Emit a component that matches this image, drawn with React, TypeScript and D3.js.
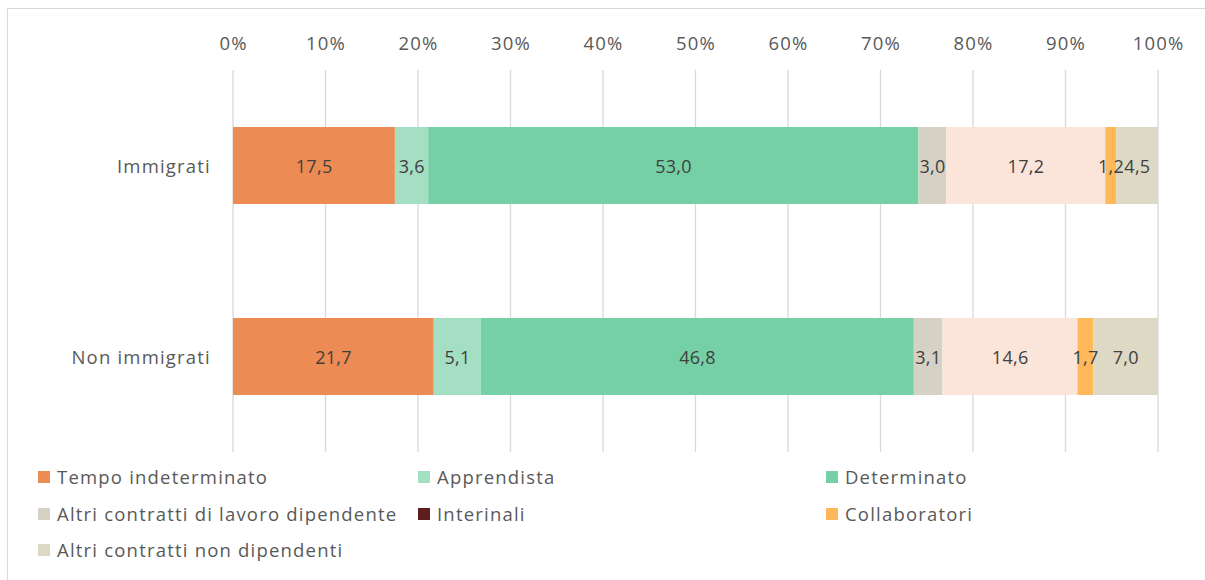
import React from "react";
import * as d3 from "d3";

const categories = ["Immigrati", "Non immigrati"];
const seriesNames = [
  "Tempo indeterminato",
  "Apprendista",
  "Determinato",
  "Altri contratti di lavoro dipendente",
  "Interinali",
  "Collaboratori",
  "Altri contratti non dipendenti",
];
const immigratiValues = [17.5, 3.6, 53.0, 3.0, 17.2, 1.2, 4.5];
const nonImmigratiValues = [21.7, 5.1, 46.8, 3.1, 14.6, 1.7, 7.0];
const xTicks = [0, 10, 20, 30, 40, 50, 60, 70, 80, 90, 100];

const barColors = ["#ed8b54", "#a4dfc4", "#75d0a5", "#d6d1c5", "#fbe5da", "#ffb95b", "#ddd9c4"];
const legendColors = ["#ed8b54", "#a4dfc4", "#75d0a5", "#d6d1c5", "#5e1e1e", "#ffb95b", "#ddd9c4"];

const W = 1205;
const H = 580;
const FONT = "'Open Sans', 'Noto Sans', sans-serif";
const FS = 18.5;
const LS = "1.2px";

const App = () => {
  const svgRef = React.useRef<SVGSVGElement>(null);

  React.useEffect(() => {
    const svg = d3.select(svgRef.current);
    svg.selectAll("*").remove();

    const rows = [immigratiValues, nonImmigratiValues];

    const x = d3.scaleLinear().domain([0, 100]).range([233, 1158]);
    const y = d3
      .scaleBand()
      .domain(categories)
      .range([70, 452])
      .paddingInner(0.597)
      .paddingOuter(0.2985);

    const txt = (sel: any) =>
      sel.attr("font-family", FONT).attr("font-size", FS).attr("letter-spacing", LS);

    // chart border
    svg
      .append("rect")
      .attr("x", 7.5)
      .attr("y", 8.5)
      .attr("width", 1210)
      .attr("height", 600)
      .attr("fill", "#fff")
      .attr("stroke", "#d9d9d9");

    // grid lines
    svg
      .append("g")
      .selectAll("line")
      .data(xTicks)
      .enter()
      .append("line")
      .attr("x1", (d) => x(d))
      .attr("x2", (d) => x(d))
      .attr("y1", 70)
      .attr("y2", 452)
      .attr("stroke", "#d9d9d9")
      .attr("stroke-width", 1.3);

    // top tick labels
    svg
      .append("g")
      .selectAll("text")
      .data(xTicks)
      .enter()
      .append("text")
      .attr("x", (d) => x(d) + 0.6)
      .attr("y", 50)
      .attr("text-anchor", "middle")
      .call(txt)
      .attr("fill", "#595959")
      .text((d) => `${d}%`);

    // bars
    rows.forEach((vals, i) => {
      const stack = d3.cumsum(vals);
      const g = svg.append("g");
      const band = y(categories[i])!;
      const segs = vals.map((v, j) => ({ v, j, x0: stack[j] - v, x1: stack[j] }));
      g.selectAll("rect")
        .data(segs)
        .enter()
        .append("rect")
        .attr("x", (d) => x(d.x0))
        .attr("y", band)
        .attr("width", (d) => x(d.x1) - x(d.x0))
        .attr("height", y.bandwidth())
        .attr("fill", (d) => barColors[d.j]);
      g.selectAll("text")
        .data(segs)
        .enter()
        .append("text")
        .attr("x", (d) => (x(d.x0) + x(d.x1)) / 2 + 0.2)
        .attr("y", band + y.bandwidth() / 2 + 7)
        .attr("text-anchor", "middle")
        .attr("font-family", FONT)
        .attr("font-size", 18)
        .attr("letter-spacing", "0.3px")
        .attr("fill", "#404040")
        .text((d) => d.v.toFixed(1).replace(".", ","));

      svg
        .append("text")
        .attr("x", 211)
        .attr("y", band + y.bandwidth() / 2 + 7)
        .attr("text-anchor", "end")
        .call(txt)
        .attr("fill", "#595959")
        .text(categories[i]);
    });

    // legend
    const legendCols = [38, 418, 826];
    const legendRows = [477, 514, 550];
    const lg = svg.append("g");
    seriesNames.forEach((name, k) => {
      const cx = legendCols[k % 3];
      const cy = legendRows[Math.floor(k / 3)];
      lg.append("rect")
        .attr("x", cx)
        .attr("y", cy - 6)
        .attr("width", 12)
        .attr("height", 12)
        .attr("fill", legendColors[k]);
      lg.append("text")
        .attr("x", cx + 19)
        .attr("y", cy + 7)
        .call(txt)
        .attr("fill", "#595959")
        .text(name);
    });
  }, []);

  return (
    <svg
      ref={svgRef}
      width={W}
      height={H}
      style={{ position: "absolute", left: 0, top: 0, display: "block" }}
    />
  );
};

export default App;
